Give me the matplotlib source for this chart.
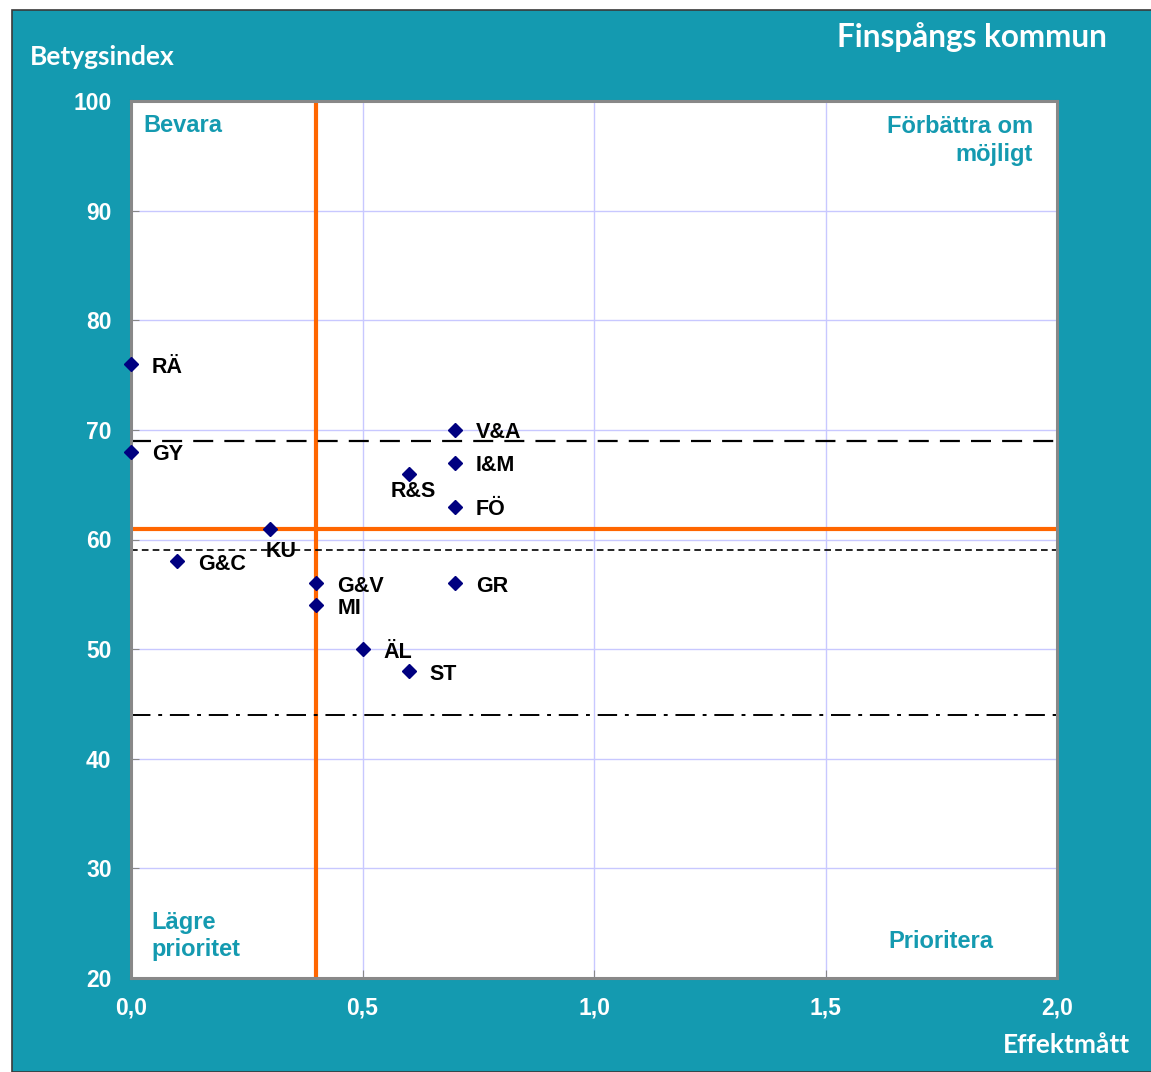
import matplotlib.pyplot as plt
from matplotlib.patches import Rectangle

# data
labels = ['RÄ', 'GY', 'G&C', 'KU', 'G&V', 'MI', 'ÄL', 'ST', 'R&S', 'V&A', 'I&M', 'FÖ', 'GR']
effekt = [0.0, 0.0, 0.1, 0.3, 0.4, 0.4, 0.5, 0.6, 0.6, 0.7, 0.7, 0.7, 0.7]
betyg = [76, 68, 58, 61, 56, 54, 50, 48, 66, 70, 67, 63, 56]

x_ticks = [0.0, 0.5, 1.0, 1.5, 2.0]
x_ticklabels = ['0,0', '0,5', '1,0', '1,5', '2,0']
y_ticks = [20, 30, 40, 50, 60, 70, 80, 90, 100]

orange_x = 0.4
orange_y = 61
ref_long = 69
ref_short = 59
ref_dashdot = 44

teal = '#149ab0'
tfont = 'Liberation Sans'
hfont = 'Lato'

fig = plt.figure(figsize=(11.51, 10.72), dpi=100)
fig.patches.append(Rectangle((12/1151, 0), 1, 1 - 10/1072, transform=fig.transFigure,
                             facecolor=teal, edgecolor='#3a3a3a', linewidth=1.2, zorder=-1))

ax = fig.add_axes([131/1151, 1 - 978/1072, 926/1151, 877/1072])
ax.set_zorder(1)
ax.set_xlim(0, 2)
ax.set_ylim(20, 100)
ax.set_facecolor('white')
for s in ax.spines.values():
    s.set_color('#888888')
    s.set_linewidth(2.2)

ax.set_xticks(x_ticks)
ax.set_xticklabels(x_ticklabels)
ax.set_yticks(y_ticks)
ax.tick_params(direction='in', length=6, color='#888888', labelcolor='white', labelsize=16.5)
ax.tick_params(axis='x', pad=13)
ax.tick_params(axis='y', pad=14)
for t in ax.get_xticklabels() + ax.get_yticklabels():
    t.set_fontweight('bold')
    t.set_fontfamily(tfont)
ax.grid(True, color='#c8c8ff', linewidth=1)
ax.set_axisbelow(True)

# reference lines
ax.axvline(orange_x, color='#ff6600', linewidth=3, zorder=2)
ax.axhline(orange_y, color='#ff6600', linewidth=3, zorder=2)
ax.axhline(ref_long, color='black', linewidth=1.6, dashes=(9, 5), zorder=2)
ax.axhline(ref_short, color='black', linewidth=1.2, dashes=(4, 2.5), zorder=2)
ax.axhline(ref_dashdot, color='black', linewidth=1.4, dashes=(10, 4, 2, 4), zorder=2)

ax.plot(effekt, betyg, 'D', color='#000080', markersize=7.5, zorder=4, clip_on=False)

offsets = {'R&S': (4, -18, 'center'), 'KU': (11, -23, 'center')}
for lab, x, y in zip(labels, effekt, betyg):
    dx, dy, ha = offsets.get(lab, (21, -3, 'left'))
    ax.annotate(lab, (x, y), xytext=(dx, dy), textcoords='offset pixels',
                ha=ha, va='center', fontsize=15.5, fontweight='bold',
                family=tfont, color='black', zorder=5)

# quadrant labels
qk = dict(color=teal, fontsize=17, fontweight='bold', family=tfont, transform=ax.transAxes)
ax.text(12/926, 1 - 24/877, 'Bevara', ha='left', va='center', **qk)
ax.text(1 - 24/926, 1 - 14/877, 'Förbättra om\nmöjligt', ha='right', va='top',
        multialignment='right', linespacing=1.25, **qk)
ax.text(20/926, 42/877, 'Lägre\nprioritet', ha='left', va='center', linespacing=1.25, **qk)
ax.text(1 - 64/926, 37/877, 'Prioritera', ha='right', va='center', **qk)

fig.text(1107/1151, 1 - 37/1072, 'Finspångs kommun', ha='right', va='center',
         color='white', fontsize=22.7, fontweight='bold', family=hfont)
fig.text(30/1151, 1 - 57/1072, 'Betygsindex', ha='left', va='center',
         color='white', fontsize=19, fontweight='bold', family=hfont)
fig.text(1130/1151, 1 - 1045/1072, 'Effektmått', ha='right', va='center',
         color='white', fontsize=19, fontweight='bold', family=hfont)

fig.savefig('out.png', dpi=100, facecolor='white')
